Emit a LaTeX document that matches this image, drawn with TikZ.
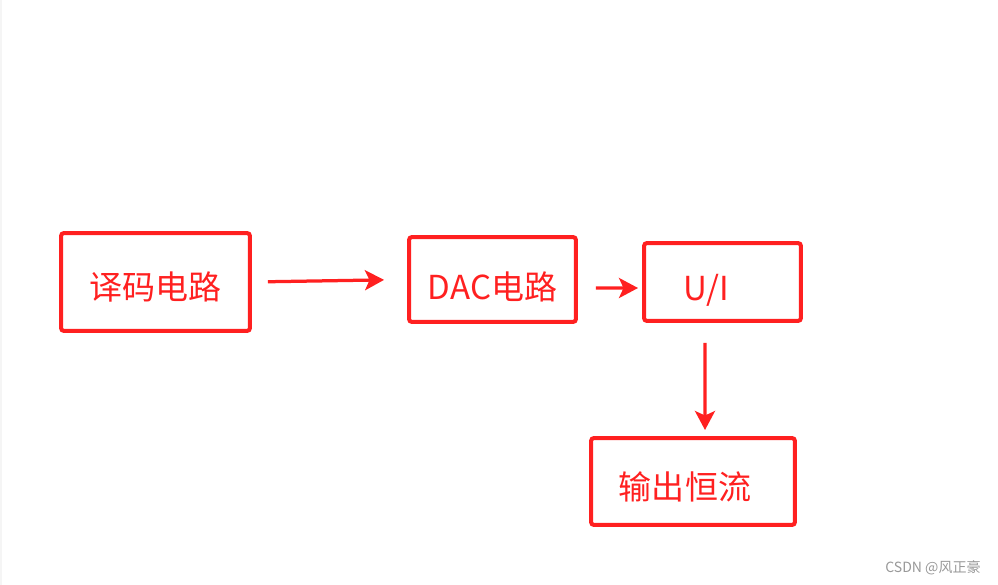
\documentclass[tikz,border=0pt]{standalone}
\usepackage{fontspec}
\setmainfont{Noto Sans CJK SC}
\usepackage{tikz}
\usetikzlibrary{arrows.meta}
\usepackage{xcolor}
\definecolor{boxred}{RGB}{255,32,32}
\tikzset{>=Stealth}
\tikzset{
    box/.style={draw=boxred, line width=0.08cm, rounded corners=0.06cm, inner sep=0pt},
    lbl/.style={text=boxred, font=\fontsize{18.8}{20}\selectfont, inner sep=0pt},
    conn/.style={draw=boxred, line width=0.065cm, -{Stealth[length=0.38cm, width=0.40cm, inset=0.09cm]}}
}

\begin{document}
\begin{tikzpicture}[x=0.02cm, y=-0.02cm]
    \useasboundingbox (0,0) rectangle (998,585);
    \fill[gray!8] (0,0) rectangle (2,585);

    \node[box, minimum width=3.78cm, minimum height=1.96cm,
        label={[lbl, yshift=-0.10cm]center:译码电路}] (decode) at (155.5,282) {};
    \node[box, minimum width=3.34cm, minimum height=1.70cm,
        label={[lbl, yshift=-0.15cm]center:DAC电路}] (dac) at (492.5,279.5) {};
    \node[box, minimum width=3.14cm, minimum height=1.56cm,
        label={[lbl, xshift=-0.33cm, yshift=-0.16cm]center:U/I}] (ui) at (722.5,282) {};
    \node[box, minimum width=4.08cm, minimum height=1.74cm,
        label={[lbl, xshift=-0.16cm, yshift=-0.11cm]center:输出恒流}] (out) at (693,481.5) {};

    \draw[conn, shorten <=0.32cm, shorten >=0.46cm] (decode.east) -- (dac.west);
    \draw[conn, shorten <=0.36cm, shorten >=0.08cm] ([yshift=-0.17cm]dac.east) -- ([yshift=-0.12cm]ui.west);
    \draw[conn, shorten <=0.40cm, shorten >=0.12cm] ([xshift=-0.35cm]ui.south) -- ([xshift=0.24cm]out.north);

    \node[text=gray!80, font=\fontsize{8}{9}\selectfont, inner sep=0pt] (mark) at (933,568) {CSDN @风正豪};
\end{tikzpicture}
\end{document}
